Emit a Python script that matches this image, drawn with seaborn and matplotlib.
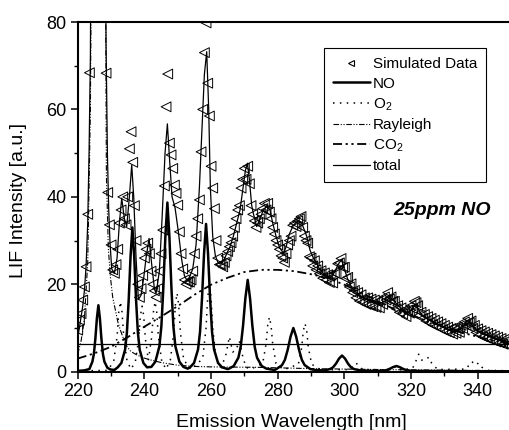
import numpy as np
import pandas as pd
import matplotlib
matplotlib.use("Agg")
import matplotlib.pyplot as plt
import seaborn as sns
from matplotlib.lines import Line2D
from matplotlib.ticker import MultipleLocator

sns.set_theme(style="ticks")
plt.rcParams['font.family'] = ['Liberation Sans', 'DejaVu Sans']
plt.rcParams['mathtext.fontset'] = 'custom'
plt.rcParams['mathtext.rm'] = 'Liberation Sans'
plt.rcParams['mathtext.it'] = 'Liberation Sans:italic'
plt.rcParams['mathtext.bf'] = 'Liberation Sans:bold'
for k in ['text.color', 'axes.labelcolor', 'xtick.color', 'ytick.color', 'axes.edgecolor']:
    plt.rcParams[k] = 'black'

# ---------------- data ----------------
# NO LIF spectrum
no_x = [220, 222, 223.5, 224.4, 224.85, 225.3, 225.75, 226.2, 226.65, 227.1, 227.55, 228.0, 228.9, 229.8, 231,
        232.0, 233.1, 234.2, 234.75, 235.3, 235.85, 236.4, 236.95, 237.5, 238.05, 238.6, 239.7, 240.8,
        242.1, 243.3, 244.5, 245.1, 245.7, 246.3, 246.9, 247.5, 248.1, 248.7, 249.3, 250.5, 251.7, 253.0,
        253.7, 254.9, 256.1, 256.7, 257.3, 257.9, 258.5, 259.1, 259.7, 260.3, 260.9, 262.1, 263.3, 265.0,
        265.4, 266.8, 268.2, 268.9, 269.6, 270.3, 271.0, 271.7, 272.4, 273.1, 273.8, 275.2, 276.6, 279.0,
        279.6, 281.3, 282.15, 283.0, 283.85, 284.7, 285.55, 286.4, 287.25, 288.1, 289.8, 291.5, 294.0,
        295.7, 296.6, 297.5, 298.4, 299.3, 300.2, 301.1, 302.0, 302.9, 304.7, 308.0,
        311.0, 312.6, 313.6, 314.6, 315.6, 316.6, 317.6, 318.6, 320.0, 335.0, 350.0]
no_y = [0.2, 0.3, 0.6, 2.3, 4.1, 7.6, 12.2, 15.2, 12.2, 7.6, 4.1, 2.3, 0.9, 0.5, 0.4,
        1.0, 2.0, 5.0, 8.9, 16.5, 26.4, 33.0, 26.4, 16.5, 8.9, 5.0, 2.0, 1.0,
        1.1, 2.3, 5.8, 10.4, 19.4, 31.0, 38.7, 31.0, 19.4, 10.4, 5.8, 2.3, 1.1, 0.7,
        1.0, 2.0, 5.1, 9.1, 16.9, 27.0, 33.8, 27.0, 16.9, 9.1, 5.1, 2.0, 1.0, 0.6,
        0.7, 1.3, 3.2, 5.7, 10.5, 16.8, 21.0, 16.8, 10.5, 5.7, 3.2, 1.3, 0.7, 0.4,
        0.6, 1.5, 2.7, 5.0, 8.0, 10.0, 8.0, 5.0, 2.7, 1.5, 0.6, 0.35, 0.3,
        0.6, 1.0, 1.85, 3.0, 3.7, 3.0, 1.85, 1.0, 0.6, 0.3, 0.2,
        0.2, 0.35, 0.65, 1.05, 1.3, 1.05, 0.65, 0.35, 0.2, 0.1, 0.1]

# O2 fluorescence
o2_x = [220, 229, 230.8, 231.8, 232.3, 232.8, 233.3, 233.8, 234.8, 236.0, 237.3, 238.3, 238.8, 239.3, 239.8,
        240.3, 241.2, 242.2, 242.7, 243.2, 243.7, 244.2, 245.2, 246.5, 247.8, 248.8, 249.3, 249.8, 250.3,
        250.8, 251.8, 254.0, 257.5, 258.5, 259.0, 259.5, 260.0, 260.5, 261.5, 263.0, 264.5, 265.5, 266.5,
        267.5, 268.5, 269.5, 270.5, 272.0, 275.5, 276.5, 277.0, 277.5, 278.0, 278.5, 279.5, 282.0, 286.2,
        287.2, 287.7, 288.2, 288.7, 289.2, 290.2, 293.0, 301.5, 302.5, 303.5, 304.5, 305.5, 314.0, 315.5,
        317.0, 320.5, 321.5, 322.3, 323.3, 324.5, 325.3, 326.3, 328.0, 336.5, 337.5, 338.3, 339.3, 340.3,
        341.3, 343.0, 350.0]
o2_y = [0.2, 0.3, 2.4, 8.0, 13.6, 16.0, 13.6, 8.0, 2.4, 0.6, 2.3, 7.5, 12.8, 15.0, 12.8,
        7.5, 2.6, 8.0, 13.6, 16.0, 13.6, 8.0, 2.4, 0.6, 2.7, 9.0, 15.3, 18.0, 15.3,
        9.0, 2.7, 0.5, 3.0, 10.0, 17.0, 20.0, 17.0, 10.0, 3.0, 0.8, 4.0, 8.0, 4.5,
        5.0, 7.0, 3.5, 1.0, 0.6, 1.9, 6.3, 10.6, 12.5, 10.6, 6.3, 1.9, 0.5, 1.7,
        5.5, 9.4, 11.0, 9.4, 5.5, 1.7, 0.4, 0.5, 1.2, 2.0, 1.2, 0.5, 0.4, 1.2,
        0.4, 0.8, 2.5, 4.0, 2.6, 2.8, 3.3, 1.8, 0.5, 0.6, 1.6, 2.3, 1.5, 2.0,
        1.0, 0.3, 0.2]

# Rayleigh scattering wing
ray_x = [220, 221, 222, 223, 223.8, 224.3, 228.2, 228.6, 229.2, 229.8, 230.5, 231.3, 232.0, 232.8, 234.0,
         234.8, 236.0, 237.8, 240.0, 241.8, 245.0, 249.8, 255.0, 260.0, 274.0, 290.0, 310.0, 330.0, 350.0]
ray_y = [4.0, 7.0, 12.0, 25.0, 60.0, 120.0, 120.0, 45.0, 28.0, 21.7, 17.0, 14.1, 11.5, 9.5, 7.0,
         5.7, 4.6, 3.8, 3.1, 2.7, 2.1, 1.5, 1.2, 1.1, 1.0, 0.7, 0.5, 0.35, 0.25]

# CO2 broadband fluorescence
co2_x = [220, 225, 230, 235, 240, 245, 250, 255, 260, 265, 270, 275, 280, 285, 290, 295, 300, 305, 310,
         315, 320, 325, 330, 335, 340, 345, 350]
co2_y = [3.0, 4.2, 5.7, 7.9, 10.3, 12.6, 15.0, 17.6, 19.9, 21.5, 22.8, 23.3, 23.3, 23.0, 22.3, 21.4, 19.9,
         18.1, 16.1, 14.3, 12.9, 11.5, 10.2, 9.0, 8.0, 7.1, 6.3]

# total fit
total_x = [220, 220.5, 221, 221.5, 222, 222.5, 223, 223.4, 223.8, 224.1, 228.2, 228.5, 228.9, 229.3, 229.7,
           230.2, 231, 231.8, 232.5, 233.2, 234, 234.7, 235.5, 236.2, 236.8, 237.5, 238.2, 239, 239.8,
           240.5, 241.4, 242.2, 243, 243.5, 244.5, 245.3, 246.2, 246.9, 247.6, 248.3, 249.2, 250.2, 251.2,
           252, 252.7, 253.5, 254.5, 255.5, 256.5, 257.3, 258, 258.7, 259.3, 259.8, 260.5, 261.3, 262.2,
           263, 264, 265, 265.7, 266.7, 267.7, 268.7, 269.5, 270.3, 270.9, 271.5, 272.2, 272.7, 273.7,
           274.7, 275.7, 276.7, 277.7, 278.5, 279.5, 280.5, 281.7, 282.5, 283.5, 284.7, 286, 287.2, 288.7,
           289.7, 290.7, 291.7, 292.7, 293.7, 294.7, 295.7, 296.7, 297.7, 298.5, 299.2, 300, 301, 302,
           302.7, 304, 305.5, 307.7, 309.5, 311, 312.5, 313.7, 314.7, 315.7, 317, 318.7, 320, 321.2, 322,
           323, 324.7, 326.5, 328.5, 330, 331.7, 333, 334.5, 336, 337.5, 338.5, 339.5, 341.7, 343.5, 345.5,
           347.5, 349.5]
total_y = [8, 10, 12.5, 15, 18.5, 24, 34, 50, 72, 120, 120, 75, 50, 37, 29.4,
           23.5, 22.5, 26, 34, 39.7, 35, 33.2, 40, 47.3, 40, 26, 16.5, 17.5, 21.5,
           26, 30.5, 24.5, 19, 17.9, 23, 35, 50, 56.7, 48, 40, 37.5, 32, 25.6,
           22, 21, 21.5, 23.5, 29, 42, 56, 68, 73.2, 60, 42, 31, 26.5, 24.8,
           24.6, 25.8, 27.5, 28.6, 31, 34, 37, 41.5, 46, 47.7, 44, 38, 36.2, 33.2,
           35, 37, 37.8, 37, 34, 31, 28.5, 27.1, 28.5, 31.5, 33.5, 34.5, 34, 31,
           27.8, 26, 24.8, 23.3, 22.5, 21.8, 21.5, 22.3, 23.8, 25, 25.5, 23.5, 21.2, 19.6,
           18.7, 17.8, 17, 16.4, 16, 15.7, 16.2, 17, 16.4, 15.5, 14.5, 13.4, 14, 15.2, 14.6,
           13.2, 12.2, 11.5, 10.7, 10.1, 9.5, 9.3, 9.6, 10.5, 11.2, 10.5, 9.6, 8.8, 8.2, 7.6,
           7.2, 6.8]

# simulated data, sampled every 0.5 nm from 220 nm
sim_start, sim_step = 220.0, 0.5
sim_y = [9.5, 11.8, 13.3, 16.4, 19.4, 24.0, 36.0, 68.4, 150, 150,
         150, 150, 150, 150, 150, 150, 150, 68.3, 41.0, 33.6,
         29.0, 23.3, 22.5, 24.5, 28.0, 34.0, 37.0, 40.0, 35.0, 33.6,
         40.0, 51.0, 54.9, 47.9, 38.0, 30.0, 20.0, 17.0, 19.0, 22.0,
         26.0, 28.0, 29.4, 27.0, 23.0, 20.0, 18.5, 17.0, 19.0, 23.0,
         27.0, 32.4, 42.5, 60.6, 68.1, 52.3, 49.6, 46.5, 42.7, 40.8,
         38.1, 32.0, 27.0, 23.5, 21.0, 20.0, 20.5, 20.5, 21.0, 23.0,
         27.0, 31.0, 35.0, 39.3, 50.3, 60.0, 73.0, 79.8, 66.0, 58.5,
         47.0, 42.0, 37.3, 30.0, 26.0, 24.5, 24.5, 24.0, 25.0, 26.5,
         27.5, 28.6, 29.5, 31.0, 33.0, 35.0, 37.0, 38.0, 42.0, 44.0,
         46.5, 44.0, 47.0, 43.0, 38.0, 36.0, 34.5, 33.0, 34.0, 35.0,
         36.0, 37.3, 38.5, 37.0, 38.5, 36.5, 35.0, 33.0, 31.5, 30.0,
         29.0, 28.0, 26.5, 26.0, 25.0, 27.0, 29.0, 30.0, 31.0, 33.5,
         34.0, 33.2, 34.5, 35.0, 35.5, 33.0, 31.0, 30.0, 29.4, 26.3,
         26.0, 24.2, 25.4, 23.3, 24.2, 22.4, 23.1, 21.4, 22.6, 21.0,
         22.2, 20.4, 22.1, 20.3, 22.6, 22.4, 24.7, 24.9, 25.9, 23.8,
         23.9, 21.3, 21.6, 19.4, 20.1, 18.1, 18.6, 16.9, 18.1, 16.2,
         17.6, 15.9, 16.9, 15.4, 16.9, 15.2, 16.6, 14.9, 16.4, 14.7,
         16.1, 14.6, 16.4, 15.4, 17.1, 16.4, 18.1, 16.6, 17.1, 16.1,
         16.1, 14.4, 15.1, 13.6, 14.6, 13.2, 14.1, 12.6, 14.1, 13.4,
         15.1, 14.4, 16.1, 15.8, 15.1, 12.9, 13.6, 12.2, 13.1, 11.6,
         12.6, 11.2, 12.2, 10.7, 11.8, 10.4, 11.4, 10.0, 11.0, 9.6,
         10.6, 9.2, 10.2, 8.9, 9.9, 8.6, 10.1, 8.8, 9.9, 9.0,
         10.6, 9.9, 11.4, 10.6, 12.2, 11.2, 11.6, 9.9, 10.6, 9.0,
         9.8, 8.4, 9.4, 8.0, 9.1, 7.7, 8.8, 7.4, 8.5, 7.1,
         8.2, 6.8, 7.9, 6.6, 7.6, 6.3, 7.4, 6.1, 7.2, 5.9]
sim_x = sim_start + sim_step * np.arange(len(sim_y))

offset_level = 6.3

x_ticks = [220, 240, 260, 280, 300, 320, 340]
y_ticks = [0, 20, 40, 60, 80]

# ---------------- figure ----------------
fig = plt.figure(figsize=(5.09, 4.30), dpi=100)
ax = fig.add_axes([0.1527, 0.1356, 0.8473, 0.8132])

sim_df = pd.DataFrame({"wl": sim_x, "I": sim_y})
sns.scatterplot(data=sim_df, x="wl", y="I", ax=ax, marker="<", s=50,
                facecolor="none", edgecolor="black", linewidth=0.7, legend=False, zorder=3)

sns.lineplot(x=total_x, y=total_y, ax=ax, color="black", linewidth=0.9, sort=False, zorder=4)
sns.lineplot(x=no_x, y=no_y, ax=ax, color="black", linewidth=1.8, sort=False, zorder=5)
sns.lineplot(x=o2_x, y=o2_y, ax=ax, color="black", linewidth=1.1, linestyle=(0, (1, 3.5)), sort=False)
sns.lineplot(x=ray_x, y=ray_y, ax=ax, color="black", linewidth=0.8,
             linestyle=(0, (5, 1.5, 1, 1.5, 1, 1.5)), sort=False)
sns.lineplot(x=co2_x, y=co2_y, ax=ax, color="black", linewidth=1.3,
             linestyle=(0, (5, 2, 1.2, 2, 1.2, 2)), sort=False)
ax.axhline(offset_level, color="black", linewidth=0.9)

ax.set_xlim(220, 349.4)
ax.set_ylim(0, 80)
ax.set_xticks(x_ticks)
ax.set_yticks(y_ticks)
ax.xaxis.set_minor_locator(MultipleLocator(10))
ax.yaxis.set_minor_locator(MultipleLocator(10))
ax.tick_params(which="major", direction="out", length=5, width=1.1, labelsize=13, pad=3, color="black",
               labelcolor="black")
ax.tick_params(which="minor", direction="out", length=3, width=1.0, color="black")
for s in ["left", "bottom", "top"]:
    ax.spines[s].set_linewidth(1.5)
    ax.spines[s].set_color("black")
ax.spines["right"].set_visible(False)

ax.set_xlabel("Emission Wavelength [nm]", fontsize=14, color="black")
ax.set_ylabel("LIF Intensity [a.u.]", fontsize=14, color="black")
ax.xaxis.set_label_coords(0.496, -0.122)
ax.yaxis.set_label_coords(-0.118, 0.49)

ax.text(314.7, 35.9, "25ppm NO", fontsize=14, fontweight="bold", fontstyle="italic",
        ha="left", va="baseline", color="black")

handles = [
    Line2D([], [], linestyle="none", marker="<", markersize=5, markerfacecolor="none",
           markeredgecolor="black", markeredgewidth=0.8),
    Line2D([], [], color="black", linewidth=1.8),
    Line2D([], [], color="black", linewidth=1.1, linestyle=(0, (1, 3.5))),
    Line2D([], [], color="black", linewidth=0.8, linestyle=(0, (5, 1.5, 1, 1.5, 1, 1.5))),
    Line2D([], [], color="black", linewidth=1.3, linestyle=(0, (5, 2, 1.2, 2, 1.2, 2))),
    Line2D([], [], color="black", linewidth=0.9),
]
labels = ["Simulated Data", "NO", "O$_2$", "Rayleigh", "CO$_2$", "total"]
leg = ax.legend(handles, labels, loc="upper left", bbox_to_anchor=(0.571, 0.925), borderaxespad=0,
                frameon=True, fancybox=False, edgecolor="black", framealpha=1, fontsize=11,
                handlelength=2.4, handletextpad=0.2, labelspacing=0.35, borderpad=0.6)
leg.get_frame().set_linewidth(0.8)
for t in leg.get_texts():
    t.set_color("black")

fig.savefig("out.png", dpi=100)
